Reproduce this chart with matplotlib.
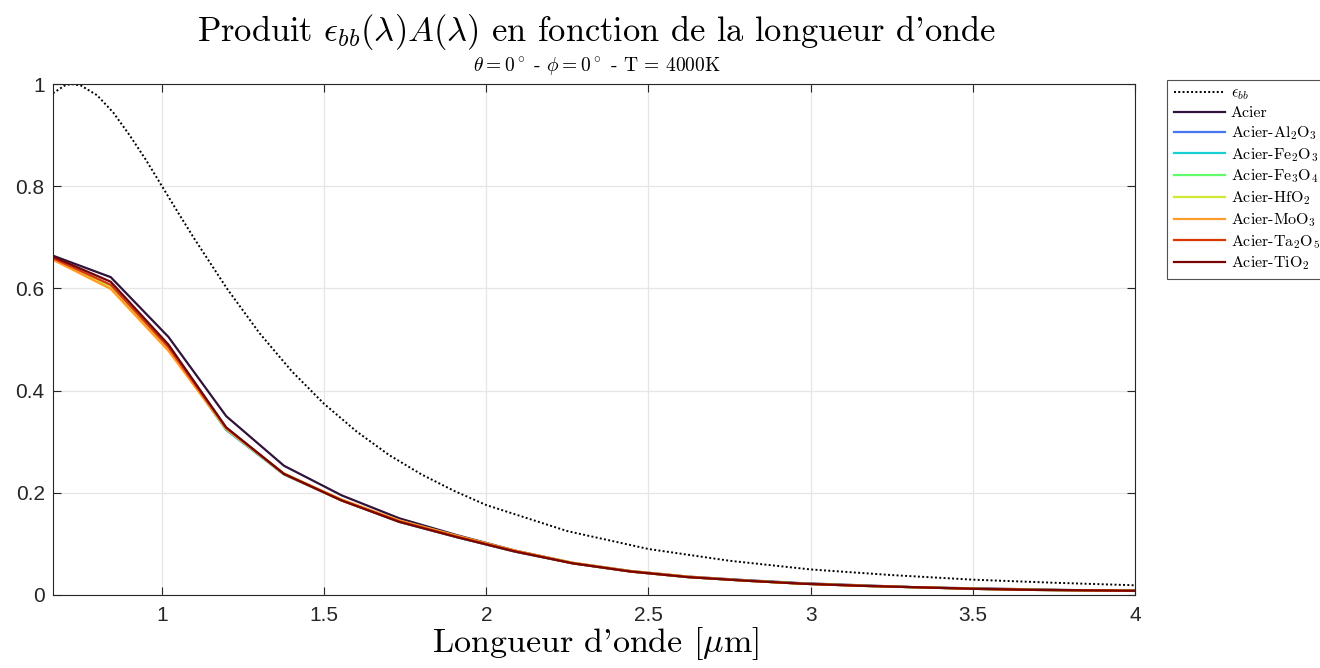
import matplotlib
matplotlib.use("Agg")
import matplotlib.pyplot as plt
import numpy as np

plt.rcParams['mathtext.fontset'] = 'cm'

# black body curve (normalised)
lam_bb = [0.664, 0.70, 0.72, 0.75, 0.80, 0.85, 0.90, 0.95, 1.0, 1.05, 1.1, 1.2, 1.3, 1.4,
          1.5, 1.6, 1.7, 1.8, 1.9, 2.0, 2.25, 2.5, 2.75, 3.0, 3.25, 3.5, 3.75, 4.0]
eps_bb = [0.982, 0.997, 1.000, 0.997, 0.978, 0.944, 0.900, 0.852, 0.800, 0.748, 0.697,
          0.600, 0.513, 0.438, 0.374, 0.320, 0.274, 0.236, 0.204, 0.176, 0.125, 0.090,
          0.067, 0.050, 0.039, 0.030, 0.024, 0.019]

# wavelengths of the sampled product curves
lam = [0.664, 0.842, 1.020, 1.198, 1.376, 1.554, 1.732, 1.910, 2.088, 2.266,
       2.444, 2.622, 2.800, 2.978, 3.156, 3.334, 3.512, 3.690, 3.868, 4.046]

labels = ['Acier', r'Acier-Al$_2$O$_3$', r'Acier-Fe$_2$O$_3$', r'Acier-Fe$_3$O$_4$',
          r'Acier-HfO$_2$', r'Acier-MoO$_3$', r'Acier-Ta$_2$O$_5$', r'Acier-TiO$_2$']

acier = [0.664, 0.622, 0.505, 0.350, 0.253, 0.195, 0.150, 0.117, 0.087, 0.063,
         0.047, 0.036, 0.029, 0.023, 0.019, 0.015, 0.013, 0.011, 0.009, 0.008]
al2o3 = [0.660, 0.606, 0.482, 0.323, 0.236, 0.185, 0.143, 0.113, 0.085, 0.062,
         0.046, 0.035, 0.028, 0.022, 0.018, 0.015, 0.012, 0.010, 0.009, 0.008]
fe2o3 = [0.659, 0.604, 0.481, 0.324, 0.236, 0.185, 0.143, 0.113, 0.085, 0.062,
         0.046, 0.035, 0.028, 0.022, 0.018, 0.015, 0.012, 0.010, 0.009, 0.008]
fe3o4 = [0.659, 0.603, 0.481, 0.325, 0.237, 0.185, 0.144, 0.114, 0.086, 0.062,
         0.046, 0.035, 0.028, 0.022, 0.018, 0.015, 0.012, 0.010, 0.009, 0.008]
hfo2 = [0.658, 0.602, 0.480, 0.325, 0.237, 0.186, 0.145, 0.115, 0.086, 0.063,
        0.046, 0.035, 0.028, 0.022, 0.018, 0.015, 0.012, 0.010, 0.009, 0.008]
moo3 = [0.656, 0.599, 0.478, 0.326, 0.238, 0.187, 0.146, 0.116, 0.087, 0.063,
        0.047, 0.036, 0.028, 0.022, 0.018, 0.015, 0.012, 0.010, 0.009, 0.008]
ta2o5 = [0.659, 0.607, 0.485, 0.327, 0.237, 0.185, 0.144, 0.114, 0.086, 0.062,
         0.046, 0.035, 0.028, 0.022, 0.018, 0.015, 0.012, 0.010, 0.009, 0.008]
tio2 = [0.662, 0.613, 0.490, 0.328, 0.237, 0.185, 0.143, 0.113, 0.085, 0.062,
        0.046, 0.035, 0.028, 0.022, 0.018, 0.015, 0.012, 0.010, 0.009, 0.008]
series = [acier, al2o3, fe2o3, fe3o4, hfo2, moo3, ta2o5, tio2]

colors = plt.cm.turbo(np.linspace(0.0, 1.0, len(series)))

fig = plt.figure(figsize=(13.2, 6.68), dpi=100)
ax = fig.add_axes([53/1320, 1 - 595/668, (1135-53)/1320, (595-84)/668])

ax.plot(lam_bb, eps_bb, color='black', linestyle=(0, (1, 1.2)), linewidth=1.4, label=r'$\epsilon_{bb}$')
for y, c, lab in zip(series, colors, labels):
    ax.plot(lam, y, color=c, linewidth=1.6, label=lab)

ax.set_xlim(0.664, 4)
ax.set_ylim(0, 1)
ax.set_xticks([1, 1.5, 2, 2.5, 3, 3.5, 4])
ax.set_xticklabels(['1', '1.5', '2', '2.5', '3', '3.5', '4'])
ax.set_yticks([0, 0.2, 0.4, 0.6, 0.8, 1])
ax.set_yticklabels(['0', '0.2', '0.4', '0.6', '0.8', '1'])
for t in ax.get_xticklabels() + ax.get_yticklabels():
    t.set_fontfamily('Liberation Sans')
    t.set_fontsize(15)
    t.set_color('#262626')
ax.tick_params(direction='in', length=6, width=0.8, color='#262626', top=True, right=True,
               labeltop=False, labelright=False)
ax.tick_params(axis='x', pad=8)
ax.tick_params(axis='y', pad=6)
ax.grid(True, color='#e6e6e6', linewidth=0.9)
ax.set_axisbelow(True)
for s in ax.spines.values():
    s.set_color('#262626')
    s.set_linewidth(0.8)

fig.text(597/1320, 1 - 32/668, r"Produit $\epsilon_{bb}(\lambda)A(\lambda)$ en fonction de la longueur d'onde",
         ha='center', va='center', fontsize=24.8, family='cmr10')
fig.text(597/1320, 1 - 67/668, r"$\theta = 0^\circ$ - $\phi = 0^\circ$ - T = 4000K",
         ha='center', va='center', fontsize=14, family='cmr10')
fig.text(595/1320, 1 - 652/668, r"Longueur d'onde [$\mu$m]",
         ha='center', va='baseline', fontsize=24.5, family='cmr10')

leg = ax.legend(loc='upper left', bbox_to_anchor=(1.03, 1.008), prop={'family': 'cmr10', 'size': 11.5},
                frameon=True, fancybox=False, edgecolor='#262626', handlelength=3.2,
                handletextpad=0.35, labelspacing=0.25, borderpad=0.4, borderaxespad=0)
leg.get_frame().set_linewidth(0.8)

fig.savefig('out.png', dpi=100)
